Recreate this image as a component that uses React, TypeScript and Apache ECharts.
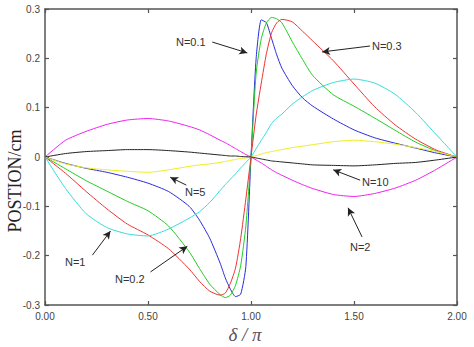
import React, { useEffect, useRef } from "react";
import * as echarts from "echarts";

const X = [0, 0.1, 0.2, 0.3, 0.4, 0.5, 0.6, 0.7, 0.75, 0.8, 0.85, 0.875, 0.9, 0.925, 0.95, 0.975, 1.0, 1.025, 1.05, 1.075, 1.1, 1.125, 1.15, 1.2, 1.25, 1.3, 1.4, 1.5, 1.6, 1.7, 1.8, 1.9, 2.0];

const N01 = [0, -0.013, -0.023, -0.031, -0.041, -0.053, -0.07, -0.1, -0.128, -0.165, -0.215, -0.245, -0.268, -0.283, -0.278, -0.222, 0, 0.2, 0.278, 0.272, 0.24, 0.207, 0.18, 0.145, 0.12, 0.103, 0.077, 0.055, 0.039, 0.028, 0.018, 0.008, 0];
const N02 = [0, -0.024, -0.048, -0.069, -0.09, -0.109, -0.14, -0.192, -0.226, -0.258, -0.279, -0.285, -0.28, -0.26, -0.22, -0.14, 0, 0.17, 0.24, 0.272, 0.283, 0.28, 0.272, 0.234, 0.198, 0.165, 0.126, 0.103, 0.079, 0.054, 0.03, 0.012, 0];
const N03 = [0, -0.033, -0.07, -0.105, -0.136, -0.158, -0.186, -0.227, -0.252, -0.272, -0.28, -0.276, -0.256, -0.225, -0.165, -0.085, 0, 0.085, 0.15, 0.21, 0.252, 0.272, 0.279, 0.274, 0.255, 0.235, 0.195, 0.148, 0.102, 0.065, 0.036, 0.014, 0];
const N1 = [0, -0.064, -0.115, -0.143, -0.156, -0.16, -0.146, -0.124, -0.111, -0.092, -0.068, -0.056, -0.045, -0.034, -0.022, -0.011, 0, 0.017, 0.034, 0.05, 0.068, 0.079, 0.087, 0.107, 0.122, 0.135, 0.151, 0.158, 0.15, 0.127, 0.09, 0.045, 0];
const N2 = [0, 0.034, 0.052, 0.066, 0.075, 0.078, 0.073, 0.062, 0.055, 0.045, 0.034, 0.029, 0.023, 0.017, 0.011, 0.005, 0, -0.006, -0.012, -0.019, -0.026, -0.032, -0.037, -0.047, -0.056, -0.064, -0.076, -0.08, -0.074, -0.063, -0.047, -0.025, 0];
const N5 = [0, -0.014, -0.022, -0.026, -0.029, -0.031, -0.026, -0.019, -0.016, -0.014, -0.011, -0.009, -0.007, -0.005, -0.003, -0.002, 0, 0.003, 0.006, 0.009, 0.011, 0.013, 0.015, 0.019, 0.022, 0.025, 0.031, 0.034, 0.031, 0.026, 0.019, 0.011, 0];
const N10 = [0, 0.007, 0.011, 0.013, 0.015, 0.015, 0.013, 0.01, 0.008, 0.006, 0.004, 0.003, 0.002, 0.002, 0.001, 0.0005, 0, -0.002, -0.004, -0.006, -0.008, -0.009, -0.01, -0.012, -0.014, -0.016, -0.017, -0.018, -0.016, -0.013, -0.011, -0.006, 0];

const X_TICKS = ["0.00", "0.50", "1.00", "1.50", "2.00"];
const Y_TICKS = ["-0.3", "-0.2", "-0.1", "0", "0.1", "0.2", "0.3"];
const X_TITLE = "δ / π";
const Y_TITLE = "POSTION/cm";

// annotation labels: text, arrow start (data), arrow end (data), label px position
const LABELS = ["N=0.1", "N=0.3", "N=5", "N=10", "N=2", "N=1", "N=0.2"];
const ARROW_FROM = [[0.812, 0.233], [1.578, 0.225], [0.686, -0.057], [1.53, -0.047], [1.539, -0.162], [0.23, -0.199], [0.512, -0.233]];
const ARROW_TO = [[0.982, 0.211], [1.345, 0.213], [0.608, -0.041], [1.399, -0.026], [1.471, -0.103], [0.318, -0.15], [0.691, -0.181]];
const LABEL_POS = [[176, 42], [372, 46], [185, 192], [362, 182], [350, 247], [65, 262], [115, 279]];

const SERIES = [
  { name: "N=0.1", data: N01, color: "#2a2ae0" },
  { name: "N=0.2", data: N02, color: "#22cc22" },
  { name: "N=0.3", data: N03, color: "#ee3333" },
  { name: "N=1", data: N1, color: "#33dddd" },
  { name: "N=2", data: N2, color: "#ee22ee" },
  { name: "N=5", data: N5, color: "#eeee22" },
  { name: "N=10", data: N10, color: "#222222" },
];

export default function App() {
  const ref = useRef<HTMLDivElement>(null);
  useEffect(() => {
    if (!ref.current) return;
    const chart = echarts.init(ref.current, null, { renderer: "svg" });
    const axisLine = { onZero: false, lineStyle: { color: "#555", width: 1.5 } };
    const tickStyle = { inside: true, length: 4, lineStyle: { color: "#555", width: 1.2 } };
    const labelFont = { fontFamily: "Liberation Sans, Arial, sans-serif", fontSize: 10, color: "#444" };
    const series: any[] = SERIES.map((s) => ({
      type: "line",
      name: s.name,
      data: X.map((x, i) => [x, s.data[i]]),
      showSymbol: false,
      smooth: 0.2,
      lineStyle: { color: s.color, width: 1 },
      itemStyle: { color: s.color },
      z: 2,
    }));
    series.push({
      type: "line",
      data: [],
      markLine: {
        silent: true,
        animation: false,
        symbol: ["none", "arrow"],
        symbolSize: [6, 8],
        label: { show: false },
        lineStyle: { color: "#222", width: 1, type: "solid" },
        itemStyle: { color: "#222" },
        data: ARROW_FROM.map((f, i) => [
          { coord: f },
          { coord: ARROW_TO[i] },
        ]),
      },
    });
    const graphics: any[] = LABELS.map((t, i) => ({
      type: "text",
      x: LABEL_POS[i][0],
      y: LABEL_POS[i][1],
      style: { text: t, fill: "#333", font: "11px 'Liberation Sans', Arial, sans-serif", verticalAlign: "middle" },
      z: 10,
    }));
    graphics.push({
      type: "text",
      x: 245,
      y: 334,
      style: { text: X_TITLE, fill: "#5a5060", font: "italic 19px 'Liberation Serif', 'DejaVu Serif', serif", align: "center", verticalAlign: "middle" },
    });
    graphics.push({
      type: "text",
      x: 15,
      y: 181,
      rotation: Math.PI / 2,
      style: { text: Y_TITLE, fill: "#222", font: "18px 'Liberation Serif', 'DejaVu Serif', serif", align: "center", verticalAlign: "middle" },
    });
    chart.setOption({
      animation: false,
      grid: { left: 45, right: 17, top: 9, bottom: 42, containLabel: false, outerBoundsMode: "none" },
      xAxis: [
        {
          type: "value", min: 0, max: 2, interval: 0.5,
          axisLine, axisTick: tickStyle, splitLine: { show: false },
          axisLabel: { ...labelFont, margin: 6, formatter: (v: number) => X_TICKS[Math.round(v / 0.5)] },
        },
        {
          type: "value", min: 0, max: 2, interval: 0.5, position: "top",
          axisLine, axisTick: tickStyle, splitLine: { show: false }, axisLabel: { show: false },
        },
      ],
      yAxis: [
        {
          type: "value", min: -0.3, max: 0.3, interval: 0.1,
          axisLine, axisTick: tickStyle, splitLine: { show: false },
          axisLabel: { ...labelFont, margin: 5, formatter: (v: number) => Y_TICKS[Math.round(v / 0.1) + 3] },
        },
        {
          type: "value", min: -0.3, max: 0.3, interval: 0.1, position: "right",
          axisLine, axisTick: tickStyle, splitLine: { show: false }, axisLabel: { show: false },
        },
      ],
      graphic: graphics,
      series,
    });
    return () => chart.dispose();
  }, []);
  return <div ref={ref} style={{ width: 474, height: 347, position: "absolute", left: 0, top: 0, background: "#fff" }} />;
}
